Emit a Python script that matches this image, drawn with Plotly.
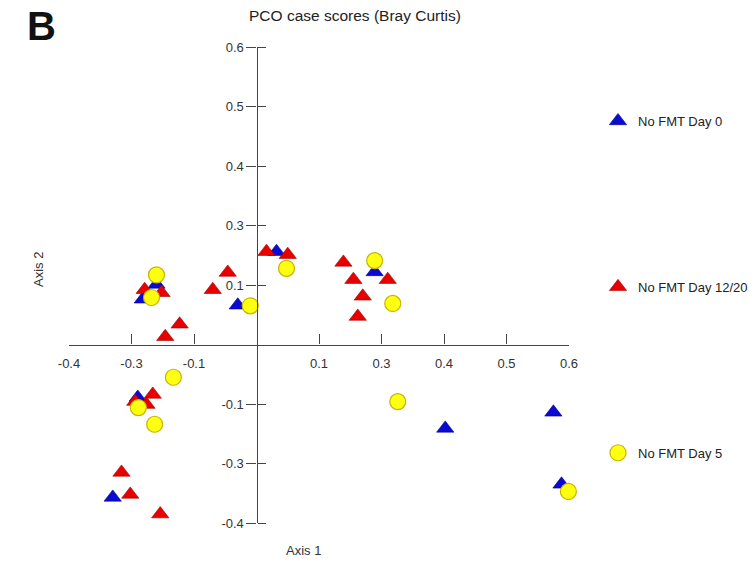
import plotly.graph_objects as go

# Data (true axis units; tick labels reproduce the original figure's printed labels)
day0_x = [-0.160, -0.182, -0.030, 0.032, 0.189, -0.190, -0.230, 0.302, 0.475, 0.488]
day0_y = [0.101, 0.076, 0.066, 0.156, 0.122, -0.089, -0.257, -0.141, -0.114, -0.235]

day1220_x = [-0.179, -0.152, -0.070, -0.046, -0.123, -0.146, 0.016, 0.050, 0.139, 0.155,
             0.210, 0.170, 0.162, -0.194, -0.166, -0.176, -0.216, -0.202, -0.154]
day1220_y = [0.092, 0.087, 0.092, 0.121, 0.034, 0.013, 0.156, 0.151, 0.138, 0.109,
             0.109, 0.081, 0.047, -0.096, -0.084, -0.101, -0.215, -0.252, -0.285]

day5_x = [-0.160, -0.168, -0.010, 0.048, 0.189, 0.218, -0.133, -0.189, -0.163, 0.226, 0.499]
day5_y = [0.117, 0.079, 0.065, 0.128, 0.141, 0.069, -0.055, -0.106, -0.134, -0.096, -0.247]

x_tickvals = [-0.3, -0.2, -0.1, 0.1, 0.2, 0.3, 0.4, 0.5]
x_ticktext = ["-0.4", "-0.3", "-0.1", "0.1", "0.3", "0.4", "0.5", "0.6"]
y_tickvals = [-0.3, -0.2, -0.1, 0.1, 0.2, 0.3, 0.4, 0.5]
y_ticktext = ["-0.4", "-0.3", "-0.1", "0.1", "0.3", "0.4", "0.5", "0.6"]

XR = [-0.3, 0.5]
YR = [-0.3, 0.5]

FONT = "Arial, Liberation Sans, sans-serif"
AXC = "#444444"
TXC = "#333333"

fig = go.Figure()
fig.add_trace(go.Scatter(x=day0_x, y=day0_y, mode="markers", name="No FMT Day 0",
                         legendgroup="a", cliponaxis=False,
                         marker=dict(symbol="triangle-up", size=15, color="#0a0ad2",
                                     line=dict(color="#00008a", width=0.6))))
fig.add_trace(go.Scatter(x=day1220_x, y=day1220_y, mode="markers", name="No FMT Day 12/20",
                         legendgroup="b", cliponaxis=False,
                         marker=dict(symbol="triangle-up", size=15, color="#e80000",
                                     line=dict(color="#a00000", width=0.6))))
fig.add_trace(go.Scatter(x=day5_x, y=day5_y, mode="markers", name="No FMT Day 5",
                         legendgroup="c", cliponaxis=False,
                         marker=dict(symbol="circle", size=16, color="#ffff10",
                                     line=dict(color="#c8b400", width=1.2))))
# invisible helper trace for the right-hand half of the crossing y ticks
fig.add_trace(go.Scatter(x=[0], y=[0], yaxis="y2", mode="markers", showlegend=False,
                         hoverinfo="skip", marker=dict(opacity=0)))

xpos = (0 - XR[0]) / (XR[1] - XR[0])
ypos = (0 - YR[0]) / (YR[1] - YR[0])


def px_x(p):
    return (p - 69) / 500


def px_y(p):
    return (523 - p) / 476


fig.update_layout(
    width=755, height=565,
    margin=dict(l=69, r=186, t=47, b=42, autoexpand=False),
    paper_bgcolor="white", plot_bgcolor="white",
    font=dict(family=FONT, size=13, color=TXC),
    showlegend=True,
    legend=dict(x=px_x(598), y=px_y(106), xanchor="left", yanchor="top",
                tracegroupgap=146, font=dict(size=13, color="#222"),
                bgcolor="rgba(0,0,0,0)", itemwidth=30),
    xaxis=dict(range=XR, anchor="free", position=ypos, side="bottom",
               showline=True, linecolor=AXC, linewidth=1.2,
               ticks="inside", ticklen=10, tickcolor=AXC, tickwidth=1.2,
               tickvals=x_tickvals, ticktext=x_ticktext, ticklabelstandoff=7,
               showgrid=False, zeroline=False, tickfont=dict(size=13, color=TXC)),
    yaxis=dict(range=YR, anchor="free", position=xpos, side="left",
               showline=True, linecolor=AXC, linewidth=1.2,
               ticks="outside", ticklen=10, tickcolor=AXC, tickwidth=1.2,
               tickvals=y_tickvals, ticktext=y_ticktext,
               showgrid=False, zeroline=False, tickfont=dict(size=13, color=TXC)),
    yaxis2=dict(range=YR, overlaying="y", anchor="free", position=xpos, side="right",
                showline=False, ticks="outside", ticklen=8, tickcolor=AXC, tickwidth=1.2,
                tickvals=y_tickvals, showticklabels=False,
                showgrid=False, zeroline=False),
    annotations=[
        dict(text="PCO case scores (Bray Curtis)", xref="paper", yref="paper",
             x=px_x(355), y=px_y(15), xanchor="center", yanchor="middle",
             showarrow=False, font=dict(size=15.5, color="#222")),
        dict(text="<b>B</b>", xref="paper", yref="paper",
             x=px_x(41), y=px_y(26), xanchor="center", yanchor="middle",
             showarrow=False, font=dict(size=40, color="#111")),
        dict(text="Axis 2", xref="paper", yref="paper", textangle=-90,
             x=px_x(38), y=px_y(270), xanchor="center", yanchor="middle",
             showarrow=False, font=dict(size=13, color=TXC)),
        dict(text="Axis 1", xref="paper", yref="paper",
             x=px_x(303), y=px_y(550), xanchor="center", yanchor="middle",
             showarrow=False, font=dict(size=13, color=TXC)),
    ],
)

fig.write_html("out.html")
